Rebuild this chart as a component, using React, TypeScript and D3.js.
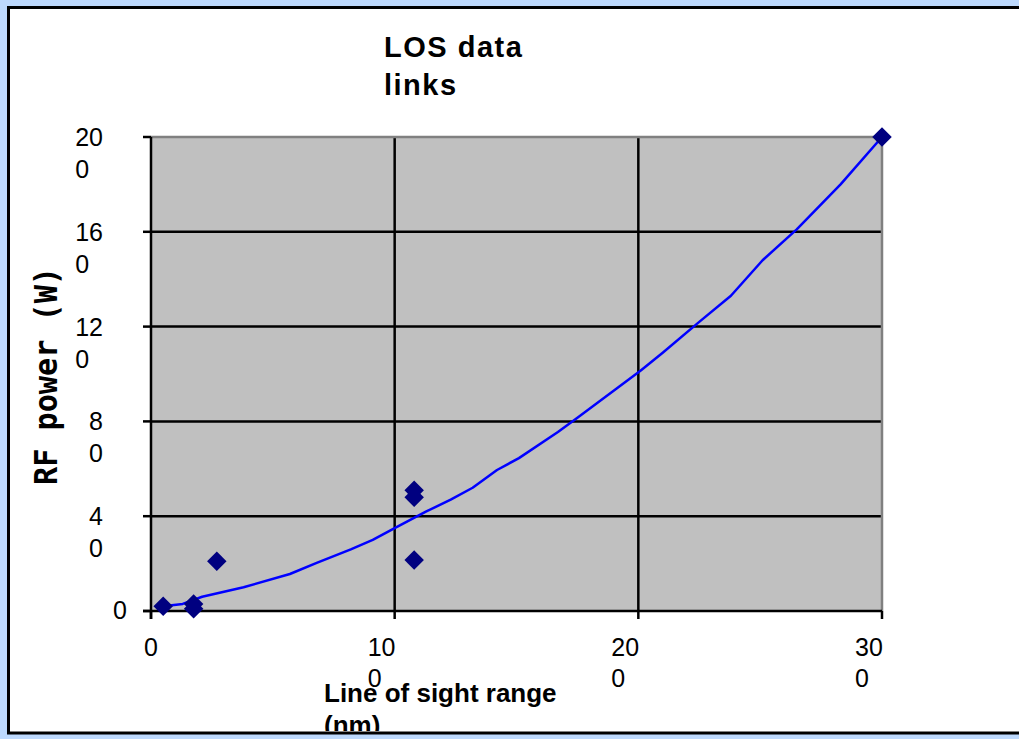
import * as d3 from "d3";
import React from "react";

// scatter points (range nm, power W)
const rangeNm = [5, 17.5, 17.5, 27, 108, 108, 108, 300];
const powerW = [2, 3, 1, 21, 51, 48, 21.5, 200];

// trend line, sampled along the drawn curve
const trendX = [5, 13, 21, 38, 57, 68, 82, 91, 100, 113, 123, 132, 142, 151, 167, 175, 190, 201, 210, 225, 238, 251, 265, 283, 300];
const trendY = [2, 3, 6, 10, 15.6, 20.3, 26, 30, 35, 42, 47, 52, 59.5, 64.5, 75.5, 81.5, 93, 101.5, 109, 122, 133, 148, 161, 180, 200];

const xTicks = [0, 100, 200, 300];
const yTicks = [0, 40, 80, 120, 160, 200];
// the labels wrap like in the original
const xTickLabels = [["0"], ["10", "0"], ["20", "0"], ["30", "0"]];
const yTickLabels = [["0"], ["4", "0"], ["8", "0"], ["12", "0"], ["16", "0"], ["20", "0"]];

const W = 1019, H = 739;
const margin = { left: 151, right: 882, top: 137, bottom: 611 };

export default function App() {
    const x = d3.scaleLinear().domain([0, 300]).range([margin.left, margin.right]);
    const y = d3.scaleLinear().domain([0, 200]).range([margin.bottom, margin.top]);

    const line = d3.line<number>()
        .x((d, i) => x(trendX[i]))
        .y((d) => y(d));

    const diamond = d3.symbol().type(d3.symbolSquare).size(190)();

    const font = "'Liberation Sans', Arial, sans-serif";

    return (
        <div style={{ position: "fixed", left: 0, top: 0, width: W, height: H }}>
            <svg width={W} height={H} style={{ display: "block" }}>
                <defs>
                    <clipPath id="box">
                        <rect x={10} y={9} width={W} height={722} />
                    </clipPath>
                </defs>
                <rect x={0} y={0} width={W} height={H} fill="#bdd9fd" />
                <rect x={8.5} y={7.5} width={W + 20} height={725.5} fill="#ffffff" />

                <g clipPath="url(#box)">
                    {/* plot area */}
                    <rect x={margin.left} y={margin.top} width={margin.right - margin.left}
                          height={margin.bottom - margin.top} fill="#c0c0c0" />
                    {yTicks.filter(t => t > 0 && t < 200).map(t => (
                        <line key={"gy" + t} x1={margin.left} x2={margin.right} y1={y(t)} y2={y(t)}
                              stroke="#000" strokeWidth={2.5} />
                    ))}
                    {xTicks.filter(t => t > 0 && t < 300).map(t => (
                        <line key={"gx" + t} x1={x(t)} x2={x(t)} y1={margin.top} y2={margin.bottom}
                              stroke="#000" strokeWidth={2.5} />
                    ))}
                    <path d={`M${margin.left},${margin.top}H${margin.right}V${margin.bottom}`}
                          fill="none" stroke="#808080" strokeWidth={2.5} />
                    <line x1={margin.left} x2={margin.left} y1={margin.top} y2={margin.bottom + 8}
                          stroke="#000" strokeWidth={2.5} />
                    <line x1={margin.left - 8} x2={margin.right} y1={margin.bottom} y2={margin.bottom}
                          stroke="#000" strokeWidth={2.5} />
                    {yTicks.map(t => (
                        <line key={"ty" + t} x1={margin.left - 8} x2={margin.left} y1={y(t)} y2={y(t)}
                              stroke="#000" strokeWidth={2.5} />
                    ))}
                    {xTicks.map(t => (
                        <line key={"tx" + t} x1={x(t)} x2={x(t)} y1={margin.bottom} y2={margin.bottom + 8}
                              stroke="#000" strokeWidth={2.5} />
                    ))}

                    {/* trend line */}
                    <path d={line(trendY) || ""} fill="none" stroke="#0000ff" strokeWidth={2.5}
                          strokeLinejoin="round" />

                    {/* points */}
                    {rangeNm.map((r, i) => (
                        <path key={"p" + i} d={diamond || ""}
                              transform={`translate(${x(r)},${y(powerW[i])}) rotate(45)`}
                              fill="#000080" />
                    ))}

                    {/* y tick labels */}
                    {yTicks.map((t, i) => {
                        const lines = yTickLabels[i];
                        if (lines.length === 1) {
                            return (
                                <text key={"ly" + t} x={127} y={y(t) + 8} fontFamily={font} fontSize={25}
                                      textAnchor="end">{lines[0]}</text>
                            );
                        }
                        const left = 103 - lines[0].length * 13.9;
                        return (
                            <text key={"ly" + t} fontFamily={font} fontSize={25}>
                                {lines.map((s, j) => (
                                    <tspan key={j} x={left} y={y(t) + 9 + j * 32}>{s}</tspan>
                                ))}
                            </text>
                        );
                    })}

                    {/* x tick labels */}
                    {xTicks.map((t, i) => {
                        const lines = xTickLabels[i];
                        if (lines.length === 1) {
                            return (
                                <text key={"lx" + t} x={x(t)} y={656} fontFamily={font} fontSize={25}
                                      textAnchor="middle">{lines[0]}</text>
                            );
                        }
                        return (
                            <text key={"lx" + t} fontFamily={font} fontSize={25}>
                                {lines.map((s, j) => (
                                    <tspan key={j} x={x(t) - 27} y={656 + j * 31}>{s}</tspan>
                                ))}
                            </text>
                        );
                    })}

                    {/* titles */}
                    <text fontFamily={font} fontSize={29} fontWeight="bold" letterSpacing={1.5}>
                        <tspan x={384} y={57}>LOS data</tspan>
                        <tspan x={384} y={95}>links</tspan>
                    </text>
                    <text fontFamily={font} fontSize={26} fontWeight="bold">
                        <tspan x={324} y={702}>Line of sight range</tspan>
                        <tspan x={324} y={734}>(nm)</tspan>
                    </text>
                    <text transform="translate(57,376) rotate(-90)" textAnchor="middle"
                          fontFamily="'DejaVu Sans Mono', monospace" fontSize={32} fontWeight="bold"
                          textLength={218} lengthAdjust="spacingAndGlyphs">RF power (W)</text>
                </g>

                <rect x={8.5} y={7.5} width={W + 20} height={725.5} fill="none" stroke="#000" strokeWidth={3} />
            </svg>
        </div>
    );
}
